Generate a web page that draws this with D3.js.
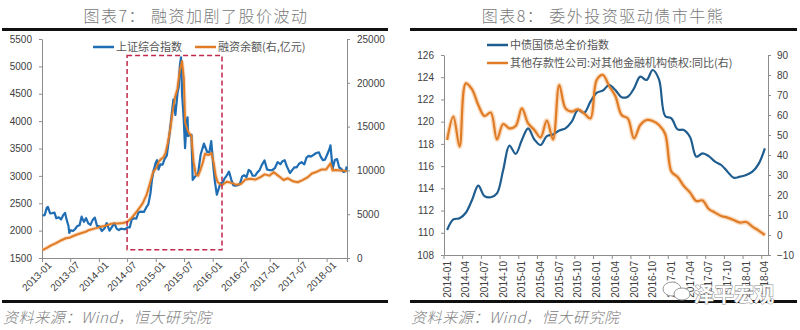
<!DOCTYPE html>
<html><head><meta charset="utf-8">
<script src="https://cdn.jsdelivr.net/npm/d3@7"></script>
<style>
html,body{margin:0;padding:0;background:#fff;}
svg{display:block;}
</style></head>
<body>
<svg id="c" width="800" height="330"></svg>
<script>
// ---------- Chart 7 data ----------
const sseDates = ["2013-01-04","2013-01-18","2013-02-01","2013-02-08","2013-02-22","2013-03-08","2013-03-22","2013-04-03","2013-04-19","2013-05-03","2013-05-17","2013-05-29","2013-06-07","2013-06-20","2013-06-25","2013-07-05","2013-07-19","2013-08-02","2013-08-16","2013-08-30","2013-09-12","2013-09-27","2013-10-11","2013-10-25","2013-11-08","2013-11-22","2013-12-06","2013-12-20","2014-01-03","2014-01-20","2014-02-07","2014-02-20","2014-03-10","2014-03-21","2014-04-10","2014-04-25","2014-05-09","2014-05-23","2014-06-06","2014-06-20","2014-07-04","2014-07-18","2014-07-31","2014-08-15","2014-08-29","2014-09-12","2014-09-26","2014-10-17","2014-10-31","2014-11-14","2014-11-28","2014-12-08","2014-12-19","2014-12-31","2015-01-09","2015-01-19","2015-01-30","2015-02-13","2015-02-27","2015-03-13","2015-03-27","2015-04-10","2015-04-24","2015-05-07","2015-05-21","2015-05-28","2015-06-05","2015-06-12","2015-06-19","2015-06-29","2015-07-08","2015-07-17","2015-07-24","2015-07-27","2015-08-07","2015-08-18","2015-08-26","2015-09-15","2015-09-30","2015-10-16","2015-11-06","2015-11-27","2015-12-11","2015-12-23","2016-01-07","2016-01-15","2016-01-28","2016-02-19","2016-03-04","2016-03-18","2016-04-01","2016-04-15","2016-04-29","2016-05-13","2016-05-27","2016-06-13","2016-06-24","2016-07-08","2016-07-22","2016-08-05","2016-08-19","2016-08-31","2016-09-14","2016-09-30","2016-10-14","2016-10-28","2016-11-11","2016-11-29","2016-12-15","2016-12-30","2017-01-16","2017-02-03","2017-02-21","2017-03-10","2017-03-24","2017-04-07","2017-04-21","2017-05-11","2017-05-26","2017-06-09","2017-06-23","2017-07-07","2017-07-24","2017-08-11","2017-08-25","2017-09-08","2017-09-22","2017-10-13","2017-10-27","2017-11-13","2017-11-24","2017-12-08","2017-12-22","2018-01-05","2018-01-19","2018-01-26","2018-02-09","2018-02-23","2018-03-09","2018-03-23","2018-04-04","2018-04-20","2018-05-04","2018-05-10"];
const sseValues = [2276,2284,2419,2432,2314,2319,2328,2225,2244,2205,2282,2325,2210,2084,1959,2007,1992,2030,2085,2098,2255,2160,2228,2133,2106,2196,2238,2085,2083,1992,2044,2139,1999,2047,2134,2036,2011,2035,2029,2026,2060,2059,2202,2226,2217,2331,2347,2341,2420,2478,2683,2940,3108,3235,3285,3116,3210,3203,3310,3372,3691,4034,4394,4112,4529,4620,5023,5166,4478,4053,3507,3957,4070,3725,3744,3748,2927,3005,3053,3391,3590,3436,3434,3636,3125,2900,2655,2860,2875,2955,3009,3078,2938,2827,2821,2834,2855,2988,3012,2977,3108,3085,3002,3005,3064,3104,3196,3282,3118,3104,3103,3140,3253,3212,3269,3287,3173,3053,3110,3158,3157,3217,3250,3209,3332,3365,3352,3391,3417,3430,3353,3289,3297,3391,3487,3558,3129,3289,3307,3153,3131,3071,3091,3174];

const marginDates = ["2013-01-04","2013-02-01","2013-03-01","2013-04-01","2013-05-02","2013-06-03","2013-07-01","2013-08-01","2013-09-02","2013-10-08","2013-11-01","2013-12-02","2014-01-02","2014-02-05","2014-03-03","2014-04-01","2014-05-05","2014-06-03","2014-07-01","2014-08-01","2014-09-01","2014-10-08","2014-11-03","2014-12-01","2014-12-15","2015-01-05","2015-01-20","2015-02-05","2015-02-20","2015-03-05","2015-03-20","2015-04-03","2015-04-17","2015-05-04","2015-05-20","2015-06-05","2015-06-18","2015-06-30","2015-07-08","2015-07-20","2015-08-03","2015-08-17","2015-08-31","2015-09-15","2015-09-30","2015-10-15","2015-10-30","2015-11-13","2015-11-27","2015-12-11","2015-12-25","2016-01-08","2016-01-20","2016-02-01","2016-02-26","2016-03-31","2016-04-29","2016-05-31","2016-06-30","2016-07-29","2016-08-31","2016-09-30","2016-10-31","2016-11-30","2016-12-30","2017-01-26","2017-02-28","2017-03-31","2017-04-28","2017-05-31","2017-06-30","2017-07-31","2017-08-31","2017-09-29","2017-10-31","2017-11-30","2017-12-29","2018-01-26","2018-02-09","2018-02-28","2018-03-30","2018-04-27","2018-05-10"];
const marginValues = [900,1150,1450,1700,2000,2250,2350,2600,2800,3000,3200,3350,3500,3650,3800,3950,3950,4000,4100,4600,5300,6200,7200,8900,9800,10300,11000,11300,11500,12000,13200,14600,16500,18300,19300,21500,22500,20500,15500,14800,14200,14000,11000,9500,9400,10100,10900,11900,11800,11800,12000,10800,9400,8700,8300,8700,8600,8350,8450,8950,9050,8950,9200,9550,9400,9800,9350,8900,9100,8750,8650,8900,9200,9650,9850,10100,10100,10800,10000,10050,10000,9950,9900];

const c7LeftTicks = [1500,2000,2500,3000,3500,4000,4500,5000,5500];
const c7RightTicks = [0,5000,10000,15000,20000,25000];
const c7Box = {from:"2014-07-01", to:"2016-03-01", low:1650, high:5200};

// ---------- Chart 8 data ----------
const months8 = ["2014-01","2014-02","2014-03","2014-04","2014-05","2014-06","2014-07","2014-08","2014-09","2014-10","2014-11","2014-12","2015-01","2015-02","2015-03","2015-04","2015-05","2015-06","2015-07","2015-08","2015-09","2015-10","2015-11","2015-12","2016-01","2016-02","2016-03","2016-04","2016-05","2016-06","2016-07","2016-08","2016-09","2016-10","2016-11","2016-12","2017-01","2017-02","2017-03","2017-04","2017-05","2017-06","2017-07","2017-08","2017-09","2017-10","2017-11","2017-12","2018-01","2018-02","2018-03","2018-04"];
const bondIndex = [110.25,111.2,111.3,111.8,112.95,114.25,113.3,113.2,113.55,115.65,117.85,117.1,118.35,119.4,118.4,117.9,118.7,118.85,119.2,119.4,120.0,121.05,120.8,121.8,122.6,122.8,123.3,122.85,122.2,122.25,123.0,124.05,123.75,124.65,123.8,120.5,120.3,119.3,119.25,118.6,116.85,117.15,116.9,116.4,116.1,115.5,114.95,115.05,115.2,115.5,116.2,117.6];
const claimsYoY = [47.5,59.2,44.2,75.8,72.8,65,59.5,61.2,47.8,55.5,53.3,54.5,63.3,55.8,52.5,48.8,57.2,47.8,75,63.3,61.7,62.8,60.8,58.3,77.5,80,74.5,69.5,60,58.3,48.3,55,57.5,57,55,50.5,31.7,29,24.5,21.2,17,17.3,13,11.2,9.5,8.7,7.5,6.2,6.5,4.2,2.2,0];
const c8LeftTicks = [108,110,112,114,116,118,120,122,124,126];
const c8RightTicks = [-10,0,10,20,30,40,50,60,70,80,90];

// ---------- drawing ----------
const svg = d3.select("#c");
const NUM = "'Liberation Sans', Arial, sans-serif";
const CJK = "'Noto Sans CJK SC', sans-serif";
const axisCol = "#8c8c8c", txtCol = "#404040";
const BLUE7 = "#1f6db3", ORANGE = "#e07b26", BLUE8 = "#1f5d8f";

function styleAxis(g){
  g.selectAll("path.domain").attr("stroke",axisCol).attr("stroke-width",1);
  g.selectAll(".tick line").attr("stroke",axisCol);
  g.selectAll("text").attr("fill",txtCol).style("font-family",NUM).style("font-size","10px");
}

// Frame lines & titles
function frame(x0,x1,cx,title){
  svg.append("text").attr("x",cx).attr("y",22).attr("text-anchor","middle")
    .style("font-family",CJK).style("font-size","16px").style("font-weight","300").style("letter-spacing","1.5px").attr("fill","#7a7a7a")
    .text(title);
  svg.append("rect").attr("x",x0).attr("y",28).attr("width",x1-x0).attr("height",3).attr("fill","#111");
  svg.append("rect").attr("x",x0).attr("y",300).attr("width",x1-x0).attr("height",3).attr("fill","#111");
  svg.append("text").attr("x",x0+1).attr("y",323)
    .style("font-family",CJK).style("font-size","15px").style("font-style","italic").style("font-weight","300").style("letter-spacing","0.6px").attr("fill","#808080")
    .text("资料来源：Wind，恒大研究院");
}
frame(2,388,196,"图表7：  融资加剧了股价波动");
frame(410,797,603,"图表8：  委外投资驱动债市牛熊");

// ---------- Chart 7 ----------
const parse = d3.timeParse("%Y-%m-%d");
const x7 = d3.scaleTime().domain([parse("2013-01-01"), parse("2018-05-12")]).range([42,347]);
const y7L = d3.scaleLinear().domain([1500,5500]).range([258,39]);
const y7R = d3.scaleLinear().domain([0,25000]).range([258,39]);

const g7 = svg.append("g");
const xAx7 = g7.append("g").attr("transform","translate(0,258)")
  .call(d3.axisBottom(x7).tickValues(d3.timeMonth.every(6).range(parse("2013-01-01"), parse("2018-02-01"))).tickFormat(d3.timeFormat("%Y-%m")).tickSizeOuter(0).tickSize(4));
styleAxis(xAx7);
xAx7.selectAll("text").attr("text-anchor","end").attr("transform","translate(2,0) rotate(-45)").attr("dx","0").attr("dy","0.6em").attr("y",5).attr("x",0);
const yAxL7 = g7.append("g").attr("transform","translate(42,0)")
  .call(d3.axisLeft(y7L).tickValues(c7LeftTicks).tickFormat(d3.format("d")).tickSize(3).tickSizeOuter(0));
styleAxis(yAxL7);
yAxL7.selectAll("text").attr("x",-10);
const yAxR7 = g7.append("g").attr("transform","translate(347,0)")
  .call(d3.axisRight(y7R).tickValues(c7RightTicks).tickFormat(d3.format("d")).tickSize(3).tickSizeOuter(0));
styleAxis(yAxR7);
yAxR7.selectAll("text").attr("x",10);

const sse = sseDates.map((d,i)=>({d:parse(d), v:sseValues[i]}));
const mar = marginDates.map((d,i)=>({d:parse(d), v:marginValues[i]}));
const lineL = d3.line().x(p=>x7(p.d)).y(p=>y7L(p.v));
const lineR = d3.line().x(p=>x7(p.d)).y(p=>y7R(p.v));
g7.append("path").datum(mar).attr("d",lineR).attr("fill","none").attr("stroke","#f6c79c").attr("stroke-width",4).attr("opacity",0.6);
g7.append("path").datum(sse).attr("d",lineL).attr("fill","none").attr("stroke",BLUE7).attr("stroke-width",2.2).attr("stroke-linejoin","round");
g7.append("path").datum(mar).attr("d",lineR).attr("fill","none").attr("stroke",ORANGE).attr("stroke-width",2).attr("stroke-linejoin","round");

// annotation box
g7.append("rect")
  .attr("x",x7(parse(c7Box.from))).attr("y",y7L(c7Box.high))
  .attr("width",x7(parse(c7Box.to))-x7(parse(c7Box.from)))
  .attr("height",y7L(c7Box.low)-y7L(c7Box.high))
  .attr("fill","none").attr("stroke","#c0294a").attr("stroke-width",1.5).attr("stroke-dasharray","5,3");

// legend 7
const leg7 = g7.append("g");
[[93,"上证综合指数",BLUE7],[195,"融资余额(右,亿元)",ORANGE]].forEach(([x,t,c])=>{
  leg7.append("line").attr("x1",x).attr("x2",x+21).attr("y1",47).attr("y2",47).attr("stroke",c).attr("stroke-width",2.5);
  leg7.append("text").attr("x",x+23).attr("y",51).style("font-family",CJK).style("font-size","11px").attr("fill","#555").text(t);
});

// ---------- Chart 8 ----------
const x8 = d3.scaleBand().domain(months8).range([444,768]).paddingInner(0).paddingOuter(0);
const y8L = d3.scaleLinear().domain([108,126]).range([255,55]);
const y8R = d3.scaleLinear().domain([-10,90]).range([255,55]);
const g8 = svg.append("g");
const xAx8 = g8.append("g").attr("transform","translate(0,255)")
  .call(d3.axisBottom(x8).tickValues(months8.filter((m,i)=>i%3===0)).tickSize(0).tickSizeOuter(0));
styleAxis(xAx8);
xAx8.selectAll("text").attr("text-anchor","end").attr("transform","rotate(-90)").attr("x",-6).attr("y",0).attr("dy","0.35em");
xAx8.selectAll("line.bt").data(months8.filter((m,i)=>i%3===0)).enter().append("line")
  .attr("class","bt").attr("x1",m=>x8(m)).attr("x2",m=>x8(m)).attr("y1",0).attr("y2",4).attr("stroke",axisCol);
const yAxL8 = g8.append("g").attr("transform","translate(444,0)")
  .call(d3.axisLeft(y8L).tickValues(c8LeftTicks).tickSize(3).tickSizeOuter(0));
styleAxis(yAxL8);
yAxL8.selectAll("text").attr("x",-10);
const yAxR8 = g8.append("g").attr("transform","translate(768,0)")
  .call(d3.axisRight(y8R).tickValues(c8RightTicks).tickSize(3).tickSizeOuter(0));
styleAxis(yAxR8);
yAxR8.selectAll("text").attr("x",9);

const cx8 = m=>x8(m)+x8.bandwidth()/2;
const lb = d3.line().curve(d3.curveCatmullRom.alpha(0.5)).x((v,i)=>cx8(months8[i])).y(v=>y8L(v));
const lo = d3.line().curve(d3.curveCatmullRom.alpha(0.5)).x((v,i)=>cx8(months8[i])).y(v=>y8R(v));
g8.append("path").datum(claimsYoY).attr("d",lo).attr("fill","none").attr("stroke","#f8cfa6").attr("stroke-width",5).attr("opacity",0.7);
g8.append("path").datum(bondIndex).attr("d",lb).attr("fill","none").attr("stroke",BLUE8).attr("stroke-width",2.2);
g8.append("path").datum(claimsYoY).attr("d",lo).attr("fill","none").attr("stroke",ORANGE).attr("stroke-width",2.2);

const leg8 = g8.append("g");
[[45,"中债国债总全价指数",BLUE8],[63,"其他存款性公司:对其他金融机构债权:同比(右)",ORANGE]].forEach(([y,t,c])=>{
  leg8.append("line").attr("x1",487).attr("x2",508).attr("y1",y).attr("y2",y).attr("stroke",c).attr("stroke-width",2.5);
  leg8.append("text").attr("x",510).attr("y",y+4).style("font-family",CJK).style("font-size","11px").attr("fill","#555").text(t);
});

// watermark
const wm = svg.append("g");
wm.append("ellipse").attr("cx",672).attr("cy",289).attr("rx",9).attr("ry",7).attr("fill","#fff").attr("stroke","#999").attr("stroke-width",1);
wm.append("ellipse").attr("cx",682).attr("cy",294).attr("rx",8).attr("ry",6).attr("fill","#fff").attr("stroke","#999").attr("stroke-width",1);
wm.append("text").attr("x",694).attr("y",302).style("font-family",CJK).style("font-size","20px").style("font-weight","bold")
  .attr("fill","#fff").attr("stroke","#888").attr("stroke-width",1).attr("paint-order","stroke").text("泽平宏观");
</script>
</body></html>
